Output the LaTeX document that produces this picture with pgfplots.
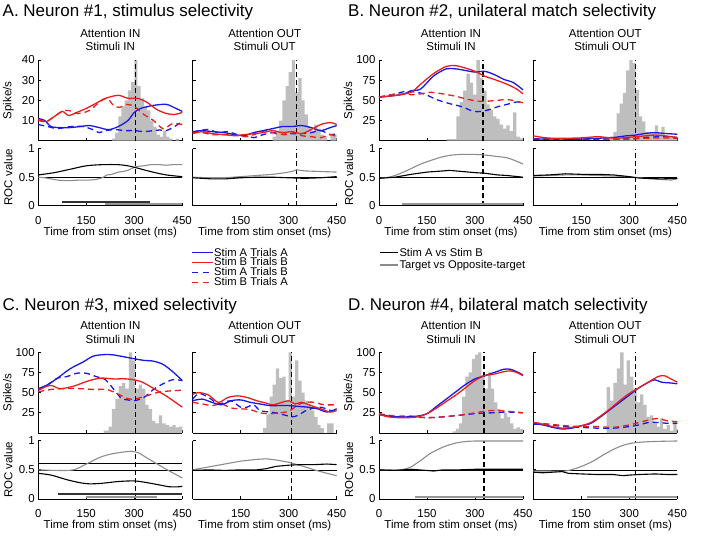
\documentclass[border=0pt]{standalone}
\usepackage{fontspec}
\setmainfont{Liberation Sans}
\usepackage{pgfplots}
\pgfplotsset{compat=1.18}

\definecolor{cB}{RGB}{25,25,230}
\definecolor{cR}{RGB}{235,30,30}
\definecolor{hg}{RGB}{190,190,190}
\definecolor{rg}{RGB}{140,140,140}

\newcommand\tk{\fontsize{11.5}{13.3}\selectfont}
\newcommand\ttl{\fontsize{17}{20}\selectfont}
\newcommand\lgf{\fontsize{11.2}{12}\selectfont}

\pgfplotsset{
  pan/.style={scale only axis, width=144pt, anchor=north west, xmin=0, xmax=450,
    axis x line=bottom, axis y line=left, axis line style={-, line width=0.9pt},
    tick align=inside, major tick length=3pt, tick style={black, line width=0.8pt},
    xtick={0,150,300,450}, ticklabel style={font=\tk},
    /pgf/number format/assume math mode=true, clip=false,
    ylabel style={at={(axis description cs:-0.208,0.5)}, anchor=center, font=\tk},
    xlabel style={at={(axis description cs:0.5,0)}, anchor=center, yshift=-27pt, font=\tk}},
  spk/.style={pan, height=80.7pt, ymin=0, ymax=100, ytick={25,50,75,100}, xticklabels={}},
  roc/.style={pan, ymin=0, ymax=1, ytick={0,0.5,1}, yticklabels={0,0.5,1},
    xticklabel style={yshift=-7pt}, xlabel={Time from stim onset (ms)}},
  rc/.style={yticklabels={}},
  rroc/.style={yticklabels={}, xticklabels={{},150,300,450}},
  sAA/.style={cB, line width=1.3pt, smooth},
  sBB/.style={cR, line width=1.3pt, smooth},
  sAB/.style={cB, line width=1.3pt, smooth, dash pattern=on 6pt off 4pt},
  sBA/.style={cR, line width=1.3pt, smooth, dash pattern=on 6pt off 4pt},
  rK/.style={black, line width=1.1pt},
  rG/.style={rg, line width=1.1pt},
  half/.style={black, line width=0.7pt},
  vl/.style={black, line width=1.2pt, dash pattern=on 5pt off 3pt},
  hist/.style={ybar interval, fill=hg, draw=none},
  sigK/.style={black!80, line width=2pt},
  sigG/.style={rg!90, line width=2pt},
}

\begin{document}
\begin{tikzpicture}
\useasboundingbox (0,0) rectangle (708pt,-543pt);

% ---------------- titles
\node[anchor=base west, inner sep=0, font=\ttl] at (2.5pt,-16.7pt) {A. Neuron \#1, stimulus selectivity};
\node[anchor=base west, inner sep=0, font=\ttl] at (348pt,-16.7pt) {B. Neuron \#2, unilateral match selectivity};
\node[anchor=base west, inner sep=0, font=\ttl] at (2.5pt,-310.3pt) {C. Neuron \#3, mixed selectivity};
\node[anchor=base west, inner sep=0, font=\ttl] at (348pt,-310.3pt) {D. Neuron \#4, bilateral match selectivity};
\foreach \yy in {0,292.3}{
  \node[font=\tk, inner sep=0] at (110.3pt,{-33.4pt-\yy pt}) {Attention IN};
  \node[font=\tk, inner sep=0] at (110.3pt,{-46.7pt-\yy pt}) {Stimuli IN};
  \node[font=\tk, inner sep=0] at (264.7pt,{-33.4pt-\yy pt}) {Attention OUT};
  \node[font=\tk, inner sep=0] at (264.7pt,{-46.7pt-\yy pt}) {Stimuli OUT};
  \node[font=\tk, inner sep=0] at (451pt,{-33.4pt-\yy pt}) {Attention IN};
  \node[font=\tk, inner sep=0] at (451pt,{-46.7pt-\yy pt}) {Stimuli IN};
  \node[font=\tk, inner sep=0] at (605.3pt,{-33.4pt-\yy pt}) {Attention OUT};
  \node[font=\tk, inner sep=0] at (605.3pt,{-46.7pt-\yy pt}) {Stimuli OUT};
}

% ---------------- legends (keys)
\draw[cB, line width=1.1pt] (192.3pt,-252.7pt) -- (213.3pt,-252.7pt);
\node[anchor=base west, inner sep=0, font=\lgf] at (214pt,-256pt) {Stim A Trials A};
\draw[cR, line width=1.1pt] (192.3pt,-262.5pt) -- (213.3pt,-262.5pt);
\node[anchor=base west, inner sep=0, font=\lgf] at (214pt,-265.8pt) {Stim B Trials B};
\draw[cB, line width=1.1pt, dash pattern=on 6pt off 5pt] (192.3pt,-272.3pt) -- (213.3pt,-272.3pt);
\node[anchor=base west, inner sep=0, font=\lgf] at (214pt,-275.6pt) {Stim A Trials B};
\draw[cR, line width=1.1pt, dash pattern=on 6pt off 5pt] (192.3pt,-282.1pt) -- (213.3pt,-282.1pt);
\node[anchor=base west, inner sep=0, font=\lgf] at (214pt,-285.4pt) {Stim B Trials A};
\draw[black, line width=1.1pt] (380pt,-252.7pt) -- (398.3pt,-252.7pt);
\node[anchor=base west, inner sep=0, font=\lgf] at (399.3pt,-256pt) {Stim A vs Stim B};
\draw[rg, line width=1.1pt] (380pt,-265pt) -- (398.3pt,-265pt);
\node[anchor=base west, inner sep=0, font=\lgf] at (399.3pt,-268.3pt) {Target vs Opposite-target};

% ================= A left
\begin{axis}[spk, at={(38.3pt,-60pt)}, ymax=40, ytick={10,20,30,40}, ylabel={Spike/s}]
\addplot[hist] coordinates {(230,1)(240,4)(250,12)(260,17)(270,20)(280,25)(290,29)(300,40)(310,27)(320,21)(330,17)(340,15)(350,10)(360,7)(370,3)(380,2)(390,5)(400,2)(410,1)(420,0)(430,1)(440,0)(450,0)};
\addplot[vl] coordinates {(305,0)(305,40)};
\addplot[sAB] coordinates {(0,8)(30,7)(60,6)(100,7)(140,7)(170,5.5)(190,4)(210,5)(240,5.5)(270,5)(300,5)(330,4.5)(360,5)(380,5.3)(400,5)(420,6.5)(440,8.5)(450,10)};
\addplot[sBA] coordinates {(0,10)(25,9.5)(50,12)(75,14.5)(95,15)(125,13.5)(160,15)(190,19)(215,21)(235,17.5)(255,16.5)(275,18)(300,17)(330,13)(360,10)(390,6)(420,8.5)(450,8)};
\addplot[sAA] coordinates {(0,11)(20,10)(40,7)(70,6.5)(100,6.5)(130,7)(160,7.5)(190,6.5)(220,5.5)(250,7)(280,10)(300,14)(320,16)(360,17.5)(400,18)(430,16)(450,14.5)};
\addplot[sBB] coordinates {(0,10.5)(25,9.5)(50,12)(75,14.5)(95,12.5)(120,14)(150,16)(180,18.5)(210,21)(250,22.5)(280,21)(310,21)(340,19)(370,15.5)(400,13.5)(425,13)(450,14)};
\end{axis}
\begin{axis}[roc, at={(38.3pt,-148.7pt)}, height=57pt, ylabel={ROC value}]
\addplot[half] coordinates {(0,0.5)(450,0.5)};
\addplot[vl] coordinates {(305,0)(305,1)};
\addplot[sigG] coordinates {(209,0.03)(450,0.03)};
\addplot[sigK] coordinates {(73,0.07)(350,0.07)};
\addplot[rG] coordinates {(0,0.50)(20,0.49)(40,0.47)(60,0.45)(80,0.44)(100,0.44)(130,0.45)(160,0.45)(180,0.46)(200,0.49)(215,0.54)(230,0.55)(250,0.59)(265,0.60)(280,0.62)(295,0.66)(310,0.69)(330,0.70)(350,0.72)(380,0.72)(400,0.71)(420,0.72)(450,0.72)};
\addplot[rK, smooth] coordinates {(0,0.54)(50,0.58)(100,0.64)(150,0.70)(200,0.72)(250,0.72)(280,0.70)(310,0.66)(350,0.60)(400,0.54)(450,0.51)};
\end{axis}

% ================= A right
\begin{axis}[spk, rc, at={(192.7pt,-60pt)}, ymax=40, ytick={10,20,30,40}]
\addplot[hist] coordinates {(250,2)(260,5)(270,10)(280,20)(290,27)(300,34)(310,40)(320,24)(330,31)(340,20)(350,13)(360,7)(370,5)(380,8)(390,6)(400,3)(410,2)(420,0)(430,3)(440,3)(450,0)};
\addplot[vl] coordinates {(325,0)(325,40)};
\addplot[sAB] coordinates {(0,4)(20,5)(50,5.5)(80,4)(110,4.5)(140,3)(170,2.5)(190,1.5)(220,3)(250,4)(280,4)(310,3.5)(340,3.5)(370,4)(400,5)(430,3)(450,3.5)};
\addplot[sBA] coordinates {(0,4)(30,4)(60,3)(100,3)(140,2.5)(170,2)(200,3.5)(230,5)(260,3.5)(290,3)(320,4)(340,2.5)(370,2)(400,1.5)(430,3)(450,2)};
\addplot[sAA] coordinates {(0,4.5)(30,5)(60,4.5)(100,4)(130,3)(160,2.5)(190,4)(220,5)(250,6)(280,7)(310,7)(340,7.5)(370,6.5)(400,5)(430,6.5)(450,7.5)};
\addplot[sBB] coordinates {(0,3.5)(30,4.5)(60,3.5)(100,3)(130,2.5)(160,3)(190,3.5)(220,4)(250,5)(280,4)(310,4.5)(340,3.5)(370,5.5)(400,8)(430,9)(450,8)};
\end{axis}
\begin{axis}[roc, rroc, at={(192.7pt,-148.7pt)}, height=57pt]
\addplot[half] coordinates {(0,0.5)(450,0.5)};
\addplot[vl] coordinates {(325,0)(325,1)};
\addplot[rG] coordinates {(0,0.50)(50,0.49)(100,0.49)(150,0.51)(200,0.53)(250,0.55)(290,0.58)(310,0.60)(325,0.63)(350,0.61)(400,0.60)(450,0.59)};
\addplot[rK] coordinates {(0,0.49)(30,0.48)(60,0.47)(100,0.47)(150,0.49)(200,0.50)(250,0.50)(300,0.49)(350,0.48)(400,0.49)(450,0.51)};
\end{axis}

% ================= B left
\begin{axis}[spk, at={(379pt,-60pt)}, ylabel={Spike/s}]
\addplot[hist] coordinates {(211,2)(242,30)(252,48)(263,62)(273,83)(284,72)(294,57)(304,100)(315,78)(325,62)(336,45)(346,38)(356,30)(367,27)(377,20)(388,15)(398,19)(408,12)(419,35)(429,5)(440,3)(450,0)};
\addplot[vl] coordinates {(325,0)(325,100)};
\addplot[sAB] coordinates {(0,54)(40,57)(80,61)(100,61)(140,58)(180,51)(220,46)(260,42)(290,37)(310,36)(340,38)(370,42)(400,45)(430,48)(450,47)};
\addplot[sBA] coordinates {(0,54)(40,57)(80,58)(100,57)(130,58)(160,60)(200,58)(240,55)(280,51)(310,49)(340,49)(370,50)(400,51)(430,49)(450,47)};
\addplot[sAA] coordinates {(0,54)(50,56)(80,58)(100,62)(130,64)(170,80)(210,89)(240,89)(270,87)(300,85)(330,86)(360,82)(390,76)(420,72)(450,63)};
\addplot[sBB] coordinates {(0,54)(50,56)(100,60)(130,70)(170,83)(210,92)(240,93)(270,90)(300,86)(330,80)(360,76)(400,70)(430,64)(450,58)};
\end{axis}
\begin{axis}[roc, at={(379pt,-148.7pt)}, height=57pt, ylabel={ROC value}]
\addplot[half] coordinates {(0,0.5)(450,0.5)};
\addplot[vl] coordinates {(325,0)(325,1)};
\addplot[sigG] coordinates {(73,0.035)(450,0.035)};
\addplot[rG, smooth] coordinates {(0,0.48)(30,0.50)(60,0.55)(100,0.65)(130,0.73)(170,0.81)(200,0.86)(230,0.89)(260,0.90)(300,0.90)(330,0.89)(360,0.87)(400,0.84)(430,0.78)(450,0.73)};
\addplot[rK] coordinates {(0,0.48)(50,0.50)(100,0.55)(150,0.59)(200,0.61)(220,0.62)(260,0.60)(300,0.58)(330,0.57)(370,0.54)(400,0.53)(450,0.50)};
\end{axis}

% ================= B right
\begin{axis}[spk, rc, at={(533.3pt,-60pt)}]
\addplot[hist] coordinates {(240,5)(250,11)(260,34)(270,46)(280,59)(290,87)(300,100)(310,96)(320,63)(330,30)(340,24)(350,11)(360,9)(370,9)(380,19)(390,9)(400,17)(410,7)(420,5)(430,5)(440,3)(450,0)};
\addplot[vl] coordinates {(320,0)(320,100)};
\addplot[sAB] coordinates {(0,2)(100,1.5)(200,1.5)(300,2.5)(350,4)(400,5)(450,4)};
\addplot[sBA] coordinates {(0,2.5)(100,2)(200,2)(300,2)(350,3)(400,3.5)(450,3)};
\addplot[sAA] coordinates {(0,2)(50,2)(100,2)(150,2)(200,3)(250,4)(290,6)(320,7)(350,9)(380,10)(410,9)(450,8)};
\addplot[sBB] coordinates {(0,6)(30,4)(60,3)(100,3)(150,3.5)(200,5)(230,4)(260,3)(290,4)(320,5)(350,6)(380,7)(410,6)(450,4)};
\end{axis}
\begin{axis}[roc, rroc, at={(533.3pt,-148.7pt)}, height=57pt]
\addplot[half] coordinates {(0,0.5)(450,0.5)};
\addplot[vl] coordinates {(320,0)(320,1)};
\addplot[rG] coordinates {(0,0.52)(50,0.53)(100,0.54)(150,0.54)(200,0.53)(250,0.52)(300,0.51)(350,0.48)(400,0.46)(430,0.45)(450,0.47)};
\addplot[rK] coordinates {(0,0.53)(50,0.54)(100,0.56)(150,0.55)(200,0.55)(250,0.54)(300,0.51)(320,0.49)(350,0.48)(400,0.47)(450,0.48)};
\end{axis}

% ================= C left
\begin{axis}[spk, at={(38.3pt,-352.3pt)}, ylabel={Spike/s}]
\addplot[hist] coordinates {(204,3)(220,8)(230,30)(241,42)(251,58)(262,62)(272,55)(283,100)(293,90)(303,55)(314,60)(324,55)(335,35)(345,30)(356,15)(366,12)(377,22)(387,12)(398,10)(408,8)(419,10)(429,7)(440,8)(450,0)};
\addplot[vl] coordinates {(303,0)(303,100)};
\addplot[sAB] coordinates {(0,53)(30,60)(60,68)(90,70)(120,74)(150,74)(180,70)(210,66)(240,52)(260,43)(280,41)(300,40)(330,44)(360,54)(390,61)(420,66)(450,65)};
\addplot[sBA] coordinates {(0,51)(40,54)(89,55)(130,55)(173,54)(215,54)(235,51)(277,43)(298,42)(330,45)(382,51)(450,53)};
\addplot[sAA] coordinates {(0,55)(30,60)(60,68)(90,77)(110,82)(140,88)(170,95)(200,97)(230,97)(260,95)(300,92)(330,90)(360,89)(390,85)(420,76)(450,65)};
\addplot[sBB] coordinates {(0,53)(37,59)(68,55)(110,58)(152,64)(194,68)(235,67)(277,67)(319,64)(361,55)(403,45)(450,32)};
\end{axis}
\begin{axis}[roc, at={(38.3pt,-440.7pt)}, height=58.3pt, ylabel={ROC value}]
\addplot[half] coordinates {(0,0.5)(450,0.5)};
\addplot[half] coordinates {(0,0.62)(450,0.62)};
\addplot[vl] coordinates {(303,0)(303,1)};
\addplot[sigG] coordinates {(150,0.04)(372,0.04)};
\addplot[sigK] coordinates {(63,0.086)(450,0.086)};
\addplot[rG, smooth] coordinates {(0,0.50)(60,0.49)(110,0.50)(150,0.60)(195,0.72)(235,0.78)(290,0.82)(310,0.80)(350,0.67)(400,0.51)(450,0.36)};
\addplot[rK, smooth] coordinates {(0,0.44)(40,0.41)(90,0.33)(130,0.28)(160,0.26)(200,0.27)(250,0.30)(300,0.31)(340,0.28)(380,0.24)(410,0.21)(440,0.21)(450,0.22)};
\end{axis}

% ================= C right
\begin{axis}[spk, rc, at={(192.7pt,-352.3pt)}]
\addplot[hist] coordinates {(220,6)(230,23)(240,45)(250,60)(260,80)(270,68)(280,70)(290,40)(300,100)(310,45)(320,90)(330,65)(340,50)(350,40)(360,35)(370,28)(380,20)(390,10)(400,6)(410,0)(420,12)(430,12)(440,0)(450,0)};
\addplot[vl] coordinates {(309,0)(309,100)};
\addplot[sAB] coordinates {(0,42)(20,49)(50,44)(80,36)(100,38)(120,40)(150,32)(170,32)(190,35)(210,28)(240,26)(260,25)(290,22)(310,20)(330,22)(350,27)(370,30)(400,32)(430,28)(450,27)};
\addplot[sBA] coordinates {(0,38)(30,36)(60,34)(90,36)(120,31)(150,30)(180,29)(210,25)(240,24)(270,25)(300,27)(330,35)(350,38)(380,38)(410,35)(450,35)};
\addplot[sAA] coordinates {(0,40)(30,42)(60,38)(90,35)(120,40)(150,41)(180,38)(210,36)(240,34)(270,34)(300,34)(330,33)(360,32)(390,30)(420,26)(450,30)};
\addplot[sBB] coordinates {(0,48)(20,50)(50,47)(80,38)(110,44)(140,46)(170,44)(200,40)(230,37)(250,35)(280,38)(300,40)(320,36)(340,38)(370,34)(400,30)(430,26)(450,28)};
\end{axis}
\begin{axis}[roc, rroc, at={(192.7pt,-440.7pt)}, height=58.3pt]
\addplot[half] coordinates {(0,0.5)(450,0.5)};
\addplot[vl] coordinates {(309,0)(309,1)};
\addplot[rG] coordinates {(0,0.50)(50,0.55)(100,0.60)(150,0.65)(200,0.68)(230,0.69)(260,0.67)(300,0.63)(340,0.57)(380,0.50)(420,0.44)(450,0.40)};
\addplot[rK] coordinates {(0,0.49)(50,0.50)(100,0.49)(150,0.50)(200,0.50)(230,0.52)(260,0.56)(300,0.58)(340,0.59)(380,0.59)(420,0.60)(450,0.59)};
\end{axis}

% ================= D left
\begin{axis}[spk, at={(379pt,-352.3pt)}, ylabel={Spike/s}]
\addplot[hist] coordinates {(230,2)(240,5)(250,12)(260,45)(270,70)(280,75)(290,92)(300,97)(310,100)(320,72)(330,55)(340,75)(350,55)(360,38)(370,30)(380,18)(390,25)(400,20)(410,12)(420,5)(430,7)(440,5)(450,0)};
\addplot[vl] coordinates {(328,0)(328,100)};
\addplot[sAB] coordinates {(0,23)(50,20)(100,20)(150,19)(200,20)(250,22)(300,24)(350,25)(400,26)(450,25)};
\addplot[sBA] coordinates {(0,24)(50,21)(100,21)(150,19)(200,20)(250,22)(300,25)(330,27)(360,28)(400,27)(450,25)};
\addplot[sAA] coordinates {(0,23)(30,21)(60,20)(90,20)(120,21)(150,24)(180,33)(210,42)(240,51)(270,60)(300,67)(330,71)(360,75)(390,79)(410,79)(430,76)(450,72)};
\addplot[sBB] coordinates {(0,23)(30,20)(60,19)(90,19)(120,20)(150,24)(180,31)(210,39)(240,47)(270,56)(300,65)(330,71)(360,73)(390,76)(410,77)(430,75)(450,71)};
\end{axis}
\begin{axis}[roc, at={(379pt,-440.7pt)}, height=58.3pt, ylabel={ROC value}]
\addplot[half] coordinates {(0,0.5)(450,0.5)};
\addplot[vl] coordinates {(328,0)(328,1)};
\addplot[sigG] coordinates {(112,0.04)(450,0.04)};
\addplot[rG, smooth] coordinates {(0,0.50)(60,0.50)(85,0.52)(100,0.55)(130,0.66)(160,0.78)(200,0.89)(240,0.96)(280,0.99)(320,0.995)(450,0.995)};
\addplot[rK] coordinates {(0,0.50)(50,0.49)(100,0.51)(150,0.49)(170,0.48)(200,0.50)(250,0.50)(300,0.51)(350,0.51)(400,0.51)(450,0.51)};
\end{axis}

% ================= D right
\begin{axis}[spk, rc, at={(533.3pt,-352.3pt)}]
\addplot[hist] coordinates {(229,57)(240,40)(250,62)(261,80)(271,100)(282,60)(292,90)(302,70)(313,55)(323,38)(334,48)(344,35)(354,20)(365,22)(375,12)(386,8)(396,18)(406,5)(417,10)(427,3)(438,15)(448,5)(450,0)};
\addplot[vl] coordinates {(320,0)(320,100)};
\addplot[sAB] coordinates {(0,11)(50,10)(100,8)(150,7)(200,6)(250,6)(300,8)(330,10)(360,13)(390,13)(420,12)(450,12)};
\addplot[sBA] coordinates {(0,13)(50,11)(100,9)(150,8)(200,8)(250,7)(300,10)(330,13)(360,16)(390,18)(420,15)(450,14)};
\addplot[sAA] coordinates {(0,12)(30,10)(60,7)(90,5)(120,6)(150,9)(180,12)(210,20)(240,29)(270,38)(300,47)(330,56)(360,63)(380,66)(400,63)(430,62)(450,61)};
\addplot[sBB] coordinates {(0,13)(30,11)(60,8)(90,6)(120,7)(150,9)(180,13)(210,21)(240,30)(270,40)(300,49)(330,56)(360,63)(390,70)(410,71)(430,67)(450,63)};
\end{axis}
\begin{axis}[roc, rroc, at={(533.3pt,-440.7pt)}, height=58.3pt]
\addplot[half] coordinates {(0,0.5)(450,0.5)};
\addplot[vl] coordinates {(320,0)(320,1)};
\addplot[sigG] coordinates {(169,0.04)(450,0.04)};
\addplot[rG, smooth] coordinates {(0,0.48)(50,0.48)(100,0.48)(130,0.52)(160,0.58)(190,0.66)(220,0.76)(250,0.85)(280,0.92)(310,0.96)(350,0.98)(400,0.99)(450,0.995)};
\addplot[rK] coordinates {(0,0.46)(30,0.45)(60,0.46)(90,0.47)(110,0.44)(150,0.43)(200,0.42)(250,0.42)(280,0.40)(300,0.41)(330,0.42)(380,0.43)(420,0.42)(450,0.42)};
\end{axis}
\end{tikzpicture}
\end{document}
